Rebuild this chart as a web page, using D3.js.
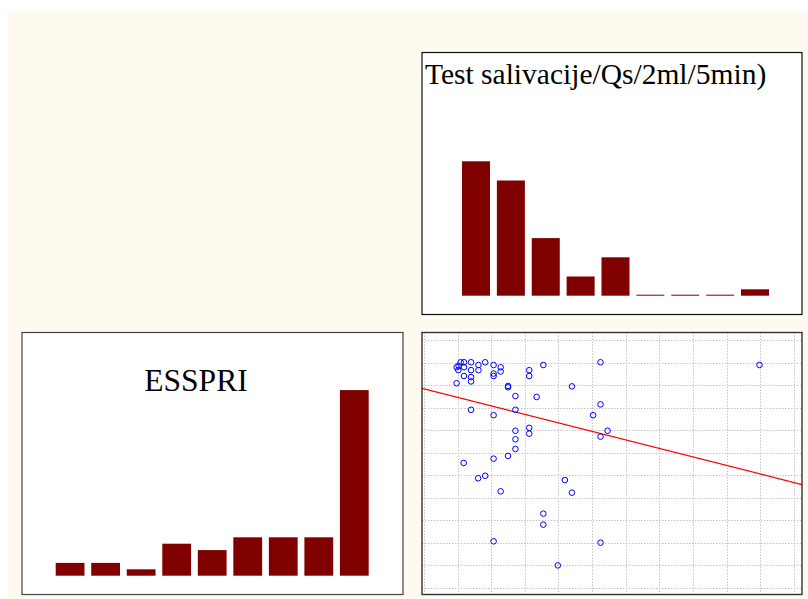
<!DOCTYPE html>
<html>
<head>
<meta charset="utf-8">
<script src="https://cdn.jsdelivr.net/npm/d3@7/dist/d3.min.js"></script>
<style>
  html, body { margin: 0; padding: 0; background: #ffffff; }
  svg { display: block; }
</style>
</head>
<body>
<svg id="chart" width="808" height="599"></svg>
<script>
// ---------------- DATA ----------------
// Histogram: Test salivacije (counts per bin)
const salivBins = ["1", "2", "3", "4", "5", "6", "7", "8", "9"];
const salivCounts = [21, 18, 9, 3, 6, 0, 0, 0, 1];
const salivTitle = "Test salivacije/Qs/2ml/5min)";

// Histogram: ESSPRI (counts per bin)
const essBins = ["1", "2", "3", "4", "5", "6", "7", "8", "9"];
const essCounts = [2, 2, 1, 5, 4, 6, 6, 6, 29];
const essTitle = "ESSPRI";

// Scatter points (x, y) in grid units
const scatterX = [0.97, 1.03, 1.09, 1.19, 1.40, 1.19, 1.02, 1.19, 1.40, 1.40, 1.40, 0.97, 1.62, 1.62, 1.82,
  2.07, 2.07, 2.07, 2.28, 2.28, 2.50, 2.50, 2.72, 3.13, 3.13, 3.55, 3.35, 4.40, 5.25,
  1.40, 2.07, 2.72, 5.25, 5.03, 2.72, 3.13, 3.13, 5.25, 5.46, 2.72, 2.72, 2.50, 2.07, 1.18,
  1.61, 1.82, 4.19, 2.28, 4.40, 3.55, 3.55, 2.07, 5.25, 3.98, 9.98];
const scatterY = [9.79, 9.85, 10.01, 10.01, 10.01, 9.79, 9.66, 9.40, 9.66, 9.35, 9.16, 9.08, 9.89, 9.66, 10.01,
  9.89, 9.51, 9.40, 9.79, 9.60, 8.96, 8.90, 8.51, 9.66, 9.40, 9.89, 8.47, 8.94, 10.01,
  7.90, 7.66, 7.90, 8.14, 7.66, 6.97, 7.10, 6.84, 6.71, 6.97, 6.59, 6.16, 5.85, 5.73, 5.54,
  4.86, 4.97, 4.78, 4.28, 4.22, 3.29, 2.80, 2.06, 2.00, 0.99, 9.89];

// Regression line (y = intercept + slope * x)
const regIntercept = 8.83;
const regSlope = -0.378;

// Grid tick values
const xGridTicks = [0, 1, 2, 3, 4, 5, 6, 7, 8, 9, 10, 11];
const yGridTicks = [0, 1, 2, 3, 4, 5, 6, 7, 8, 9, 10, 11];

// ---------------- DRAWING ----------------
const svg = d3.select("#chart");
const barColor = "#800000";
const serif = "'Liberation Serif', 'Times New Roman', Times, serif";

// page background
svg.append("rect").attr("x", 8).attr("y", 11).attr("width", 800).attr("height", 588)
  .attr("fill", "#fffaf0");

// panel frames
function panel(x0, y0, w, h, stroke, sw) {
  svg.append("rect").attr("x", x0).attr("y", y0).attr("width", w).attr("height", h)
    .attr("fill", "#ffffff").attr("stroke", stroke).attr("stroke-width", sw);
}
panel(422, 52.5, 380, 262, "#111", 1.2);
panel(22, 332.5, 381, 262, "#444", 1.2);

// ---- Top-right histogram ----
{
  const x = d3.scaleBand().domain(salivBins).range([462, 769]).paddingInner(0.197).paddingOuter(0);
  const y = d3.scaleLinear().domain([0, 25]).range([295.7, 295.7 - 6.4 * 25]);
  svg.append("g").selectAll("rect").data(salivCounts).join("rect")
    .attr("x", (d, i) => x(salivBins[i]))
    .attr("width", x.bandwidth())
    .attr("y", d => Math.min(y(d), y(0) - 1))
    .attr("height", d => Math.max(1, y(0) - y(d)))
    .attr("fill", barColor);
  svg.append("text").attr("x", 425).attr("y", 83.5)
    .attr("font-family", serif).attr("font-size", 29.5).attr("fill", "#000")
    .text(salivTitle);
}

// ---- Bottom-left histogram ----
{
  const x = d3.scaleBand().domain(essBins).range([55.7, 368.7]).paddingInner(0.19).paddingOuter(0);
  const y = d3.scaleLinear().domain([0, 30]).range([575.7, 575.7 - 6.4 * 30]);
  svg.append("g").selectAll("rect").data(essCounts).join("rect")
    .attr("x", (d, i) => x(essBins[i]))
    .attr("width", x.bandwidth())
    .attr("y", d => Math.min(y(d), y(0) - 1))
    .attr("height", d => Math.max(1, y(0) - y(d)))
    .attr("fill", barColor);
  svg.append("text").attr("x", 196).attr("y", 391).attr("text-anchor", "middle")
    .attr("font-family", serif).attr("font-size", 31.5).attr("fill", "#000")
    .text(essTitle);
}

// ---- Scatter ----
{
  const L = 422, R = 802, T = 332.5, B = 594.5;
  svg.append("rect").attr("x", L).attr("y", T).attr("width", R - L).attr("height", B - T)
    .attr("fill", "#ffffff");
  const x = d3.scaleLinear().domain([0, 11]).range([424, 424 + 33.62 * 11]);
  const y = d3.scaleLinear().domain([0, 11]).range([587.7, 587.7 - 22.52 * 11]);

  svg.append("clipPath").attr("id", "sc").append("rect")
    .attr("x", L).attr("y", T).attr("width", R - L).attr("height", B - T);
  const g = svg.append("g").attr("clip-path", "url(#sc)");

  g.append("g").selectAll("line").data(xGridTicks).join("line")
    .attr("x1", d => Math.round(x(d)) + 0.5).attr("x2", d => Math.round(x(d)) + 0.5)
    .attr("y1", T).attr("y2", B)
    .attr("stroke", "#c4c4c4").attr("stroke-width", 1).attr("stroke-dasharray", "1.5,1.5");
  g.append("g").selectAll("line").data(yGridTicks).join("line")
    .attr("y1", d => Math.round(y(d)) + 0.5).attr("y2", d => Math.round(y(d)) + 0.5)
    .attr("x1", L).attr("x2", R)
    .attr("stroke", "#c4c4c4").attr("stroke-width", 1).attr("stroke-dasharray", "1.5,1.5");

  const xd = x.invert(L), xe = x.invert(R);
  g.append("line")
    .attr("x1", x(xd)).attr("y1", y(regIntercept + regSlope * xd))
    .attr("x2", x(xe)).attr("y2", y(regIntercept + regSlope * xe))
    .attr("stroke", "#ff0000").attr("stroke-width", 1.3);

  g.append("g").selectAll("circle").data(scatterX).join("circle")
    .attr("cx", (d, i) => x(d)).attr("cy", (d, i) => y(scatterY[i]))
    .attr("r", 2.8).attr("fill", "none").attr("stroke", "#0000ff").attr("stroke-width", 1);

  svg.append("rect").attr("x", L).attr("y", T).attr("width", R - L).attr("height", B - T)
    .attr("fill", "none").attr("stroke", "#333", ).attr("stroke-width", 1.4);
}
</script>
</body>
</html>
